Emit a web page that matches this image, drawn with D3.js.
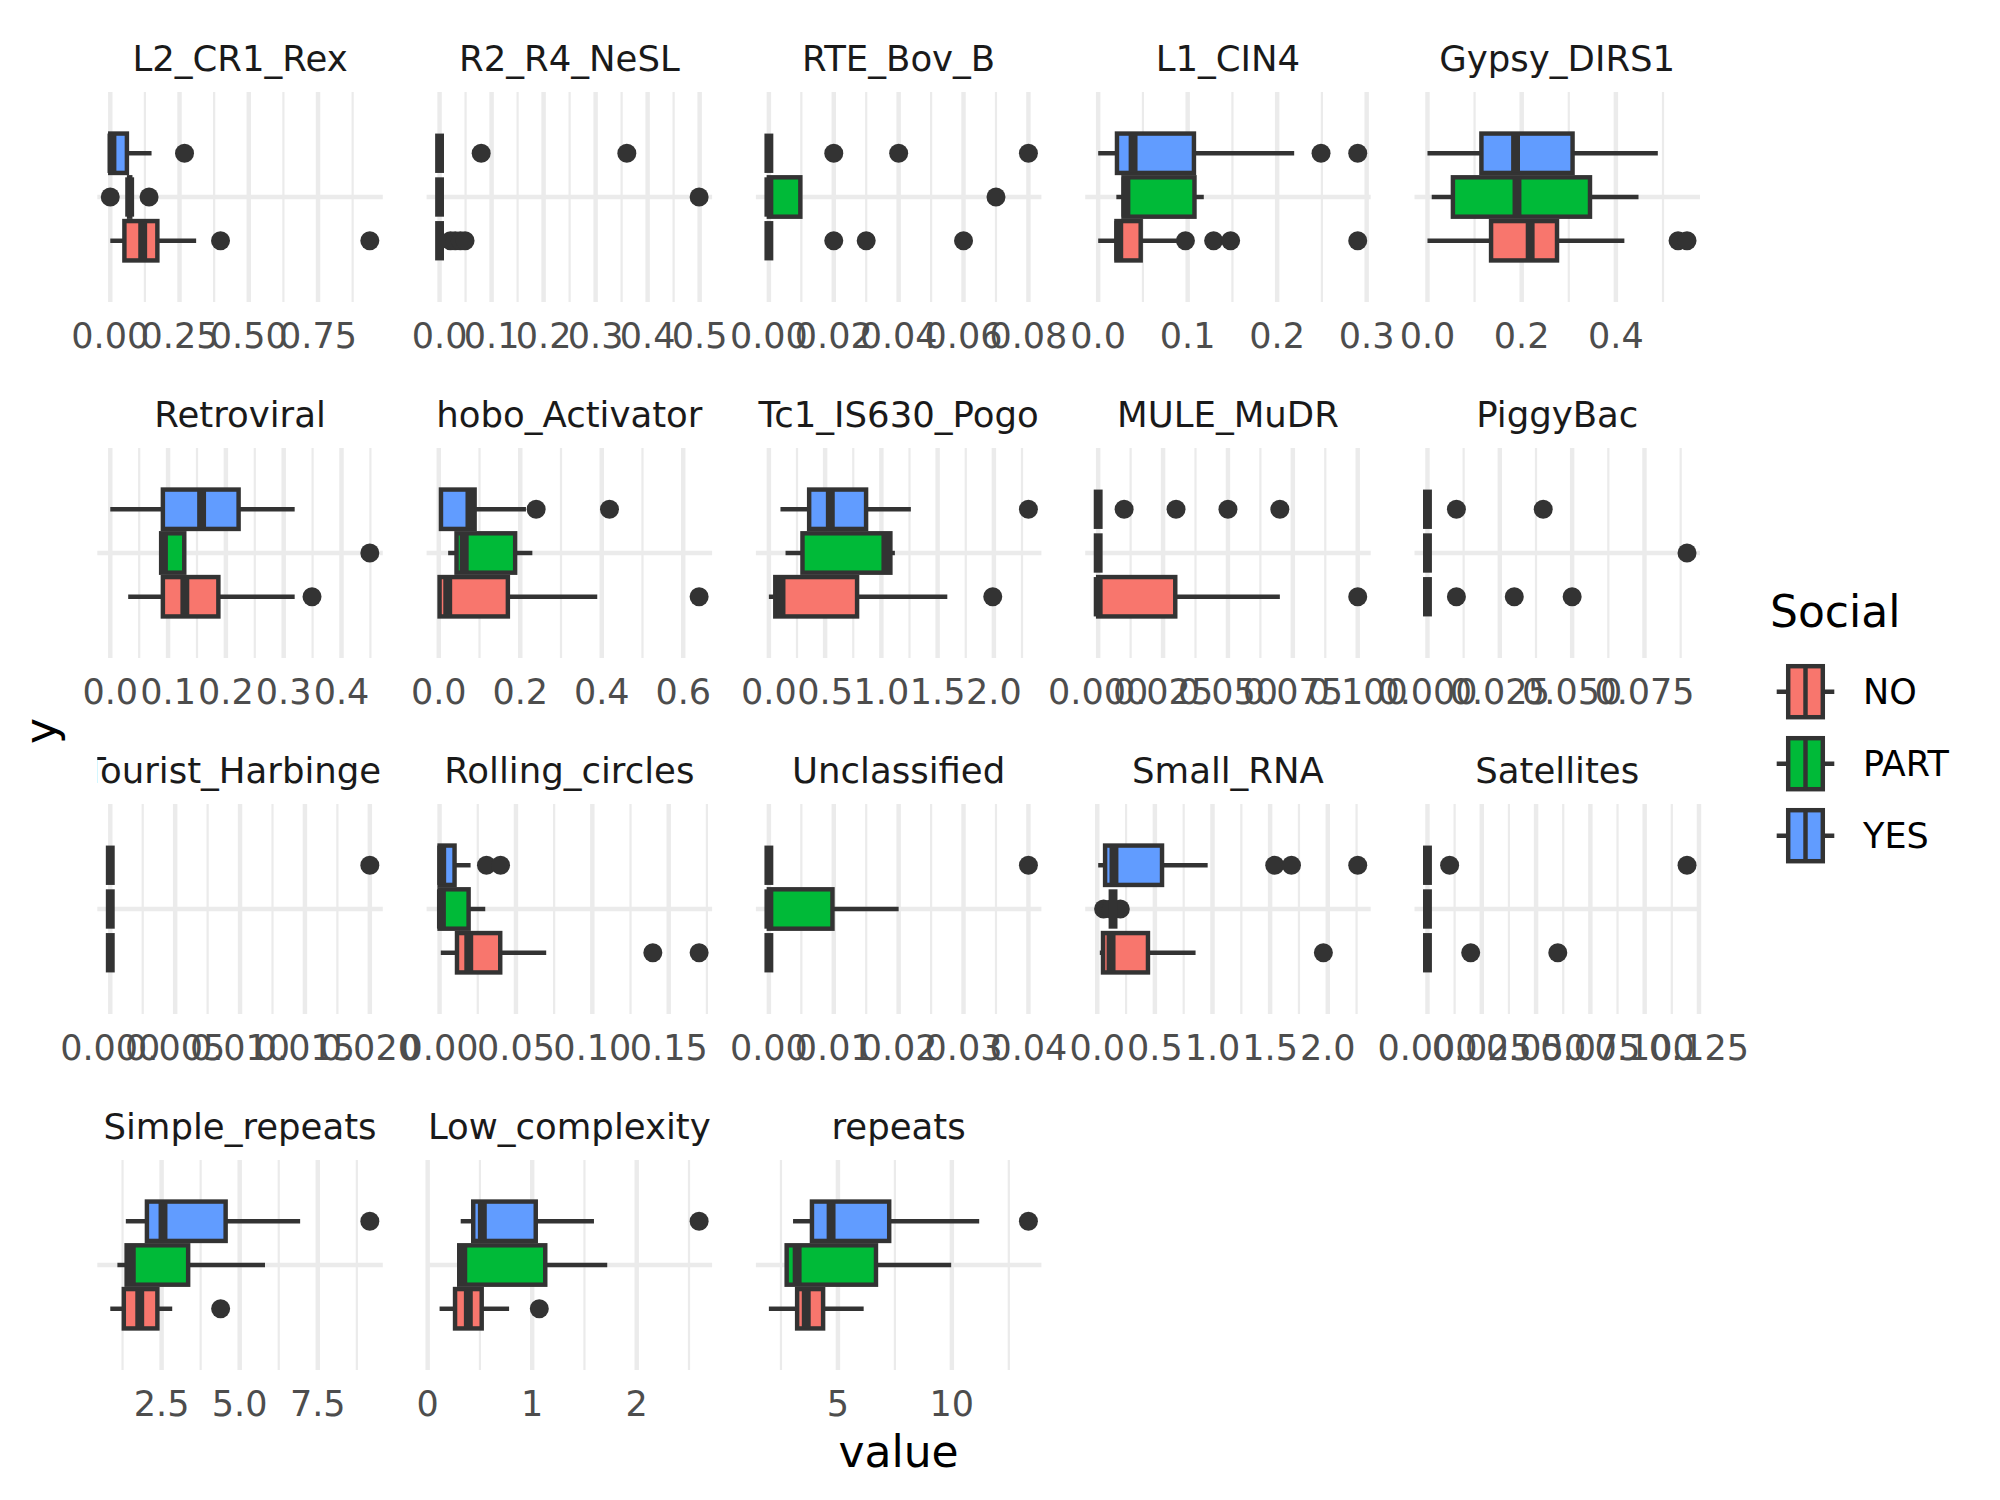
<!DOCTYPE html>
<html><head><meta charset="utf-8">
<script src="https://cdn.jsdelivr.net/npm/d3@7"></script>
<style>body{margin:0;background:#fff} svg{display:block}</style>
</head><body>
<svg id="c" width="2000" height="1500"></svg>
<script>
// ---------- data ----------
const panels = ["L2_CR1_Rex","R2_R4_NeSL","RTE_Bov_B","L1_CIN4","Gypsy_DIRS1",
  "Retroviral","hobo_Activator","Tc1_IS630_Pogo","MULE_MuDR","PiggyBac",
  "Tourist_Harbinger","Rolling_circles","Unclassified","Small_RNA","Satellites",
  "Simple_repeats","Low_complexity","repeats"];
const groups = ["NO","PART","YES"];
const groupColors = ["#F8766D","#00BA38","#619CFF"];

// each entry: [NO, PART, YES]
const whiskerLow = [
  [0.0,0.068,0.0],[0,0,0],[0,0,0],[0.0,0.0203,0.0],[0.0,0.009,0.0],
  [0.031,0.088,0.0],[0.002,0.023,0.0054],[0.0,0.148,0.103],[0,0,0],[0,0,0],
  [0,0,0],[0.0008,0.0,0.0],[0,0,0],[0.022,0.137,0.008],[0,0,0],
  [0.857,1.085,1.355],[0.114,0.30,0.316],[1.97,2.75,3.03]];
const q1 = [
  [0.051,0.068,0.0],[0,0,0],[0,0,0],[0.0204,0.0283,0.021],[0.135,0.054,0.1145],
  [0.091,0.088,0.091],[0.002,0.0436,0.0054],[0.057,0.2986,0.358],[0,0,0],[0,0,0],
  [0,0,0],[0.0114,0.0,0.0],[0,0,0],[0.05,0.137,0.068],[0,0,0],
  [1.29,1.38,2.03],[0.262,0.302,0.436],[3.21,2.75,3.86]];
const median = [
  [0.117,0.070,0.006],[0,0,0],[0,0,0],[0.023,0.031,0.039],[0.218,0.190,0.187],
  [0.129,0.092,0.158],[0.022,0.0625,0.0765],[0.108,1.04,0.546],[0,0,0],[0,0,0],
  [0,0,0],[0.0191,0.0012,0.0014],[0,0,0],[0.12,0.137,0.145],[0,0,0],
  [1.80,1.53,2.545],[0.389,0.336,0.523],[3.61,3.21,4.70]];
const q3 = [
  [0.170,0.072,0.060],[0,0,0],[0,0.0097,0],[0.0475,0.1076,0.107],[0.275,0.345,0.308],
  [0.187,0.128,0.222],[0.1696,0.1875,0.088],[0.784,1.08,0.864],[0.0297,0,0],[0,0,0],
  [0,0,0],[0.0397,0.019,0.0098],[0,0.0098,0],[0.44,0.137,0.562],[0,0,0],
  [2.365,3.35,4.55],[0.517,1.125,1.034],[4.35,6.67,7.25]];
const whiskerHigh = [
  [0.310,0.072,0.149],[0,0,0],[0,0.0097,0],[0.09,0.118,0.219],[0.418,0.448,0.489],
  [0.319,0.128,0.319],[0.389,0.2297,0.214],[1.586,1.12,1.262],[0.070,0,0],[0,0,0],
  [0,0,0],[0.0698,0.0299,0.0203],[0,0.020,0],[0.853,0.137,0.958],[0,0,0],
  [2.84,5.81,6.935],[0.779,1.718,1.591],[6.13,9.97,11.20]];
const outliers = [
  [[0.398,0.937],[0.0,0.14],[0.268]],
  [[0.021,0.030,0.040,0.049],[0.499],[0.080,0.360]],
  [[0.020,0.030,0.060],[0.070],[0.020,0.040,0.080]],
  [[0.0975,0.129,0.148,0.290],[],[0.249,0.290]],
  [[0.532,0.551],[],[]],
  [[0.349],[0.449],[]],
  [[0.639],[],[0.239,0.419]],
  [[1.99],[],[2.307]],
  [[0.100],[],[0.010,0.030,0.050,0.070]],
  [[0.010,0.030,0.050],[0.0897],[0.010,0.040]],
  [[],[],[0.020]],
  [[0.1396,0.1699],[],[0.0307,0.0399]],
  [[],[],[0.040]],
  [[1.962],[0.055,0.12,0.2],[1.54,1.685,2.26]],
  [[0.0199,0.060],[],[0.0102,0.1195]],
  [[4.39],[],[9.166]],
  [[1.068],[],[2.597]],
  [[],[],[13.36]]];
const tickValues = [
  [0,0.25,0.5,0.75],[0,0.1,0.2,0.3,0.4,0.5],[0,0.02,0.04,0.06,0.08],[0,0.1,0.2,0.3],[0,0.2,0.4],
  [0,0.1,0.2,0.3,0.4],[0,0.2,0.4,0.6],[0,0.5,1,1.5,2],[0,0.025,0.05,0.075,0.1],[0,0.025,0.05,0.075],
  [0,0.005,0.01,0.015,0.02],[0,0.05,0.1,0.15],[0,0.01,0.02,0.03,0.04],[0,0.5,1,1.5,2],[0,0.025,0.05,0.075,0.1,0.125],
  [2.5,5,7.5],[0,1,2],[5,10]];
const tickLabels = [
  ["0.00","0.25","0.50","0.75"],["0.0","0.1","0.2","0.3","0.4","0.5"],["0.00","0.02","0.04","0.06","0.08"],["0.0","0.1","0.2","0.3"],["0.0","0.2","0.4"],
  ["0.0","0.1","0.2","0.3","0.4"],["0.0","0.2","0.4","0.6"],["0.0","0.5","1.0","1.5","2.0"],["0.000","0.025","0.050","0.075","0.100"],["0.000","0.025","0.050","0.075"],
  ["0.000","0.005","0.010","0.015","0.020"],["0.00","0.05","0.10","0.15"],["0.00","0.01","0.02","0.03","0.04"],["0.0","0.5","1.0","1.5","2.0"],["0.000","0.025","0.050","0.075","0.100","0.125"],
  ["2.5","5.0","7.5"],["0","1","2"],["5","10"]];

// ---------- layout ----------
const FONT = "DejaVu Sans";
const colLeft0 = 97.3, colStep = 329.3, panelW = 285.5;
const rowTop0 = 92, rowStep = 356, panelH = 210;
const LW = 4.45, GRID = "#EBEBEB", DARK = "#333333";

const svg = d3.select("#c");
svg.append("rect").attr("width",2000).attr("height",1500).attr("fill","#fff");
const defs = svg.append("defs");

panels.forEach((name, p) => {
  const col = p % 5, row = Math.floor(p / 5);
  const left = colLeft0 + col * colStep, top = rowTop0 + row * rowStep;
  const g = svg.append("g");

  // x scale from data extent, 5% expansion
  const vals = [];
  groups.forEach((_, i) => {
    vals.push(whiskerLow[p][i], whiskerHigh[p][i], q1[p][i], q3[p][i], ...outliers[p][i]);
  });
  const [mn, mx] = d3.extent(vals);
  const r = mx - mn;
  const x = d3.scaleLinear().domain([mn - 0.05 * r, mx + 0.05 * r]).range([left, left + panelW]);
  const y = d3.scaleLinear().domain([0.4, 1.6]).range([top + panelH, top]);
  const [d0, d1] = x.domain();
  const eps = (d1 - d0) * 1e-6;

  // minor grid
  const tv = tickValues[p];
  const step = tv[1] - tv[0];
  const minors = [];
  for (let k = -1; k < tv.length; k++) {
    const m = tv[0] + step * k + step / 2;
    if (m >= d0 - eps && m <= d1 + eps) minors.push(m);
  }
  g.selectAll(".minor").data(minors).join("line")
    .attr("x1", d => x(d)).attr("x2", d => x(d))
    .attr("y1", top).attr("y2", top + panelH)
    .attr("stroke", GRID).attr("stroke-width", LW / 2);
  // major grid
  const majors = tv.map((v, i) => ({v, lab: tickLabels[p][i]})).filter(d => d.v >= d0 - eps && d.v <= d1 + eps);
  g.selectAll(".major").data(majors).join("line")
    .attr("x1", d => x(d.v)).attr("x2", d => x(d.v))
    .attr("y1", top).attr("y2", top + panelH)
    .attr("stroke", GRID).attr("stroke-width", LW);
  g.append("line").attr("x1", left).attr("x2", left + panelW)
    .attr("y1", y(1)).attr("y2", y(1)).attr("stroke", GRID).attr("stroke-width", LW);

  // tick labels
  g.selectAll(".tl").data(majors).join("text")
    .attr("x", d => x(d.v)).attr("y", top + panelH + 46)
    .attr("text-anchor", "middle").attr("font-family", FONT).attr("font-size", 35)
    .attr("fill", "#4D4D4D").text(d => d.lab);

  // strip title (clipped to panel width)
  const cid = "clip" + p;
  defs.append("clipPath").attr("id", cid).append("rect")
    .attr("x", left).attr("y", top - 70).attr("width", panelW).attr("height", 70);
  g.append("text").attr("clip-path", `url(#${cid})`)
    .attr("x", left + panelW / 2).attr("y", top - 21)
    .attr("text-anchor", "middle").attr("font-family", FONT).attr("font-size", 35.5)
    .attr("fill", "#1A1A1A").text(name);

  // boxplots
  groups.forEach((grp, i) => {
    const yc = 1 + (i - 1) * 0.25;
    const half = 0.25 * 0.9 / 2;
    const gy = y(yc), gTop = y(yc + half), gBot = y(yc - half);
    const bg = g.append("g");
    bg.selectAll("circle").data(outliers[p][i]).join("circle")
      .attr("cx", d => x(d)).attr("cy", gy).attr("r", 9.5).attr("fill", DARK);
    bg.selectAll(".wh").data([[whiskerLow[p][i], q1[p][i]], [q3[p][i], whiskerHigh[p][i]]]).join("line")
      .attr("x1", d => x(d[0])).attr("x2", d => x(d[1]))
      .attr("y1", gy).attr("y2", gy).attr("stroke", DARK).attr("stroke-width", LW);
    bg.append("rect")
      .attr("x", x(q1[p][i])).attr("width", x(q3[p][i]) - x(q1[p][i]))
      .attr("y", gTop).attr("height", gBot - gTop)
      .attr("fill", groupColors[i]).attr("stroke", DARK).attr("stroke-width", LW)
      .attr("stroke-linejoin", "miter");
    bg.append("line")
      .attr("x1", x(median[p][i])).attr("x2", x(median[p][i]))
      .attr("y1", gTop).attr("y2", gBot).attr("stroke", DARK).attr("stroke-width", LW * 2);
  });
});

// axis titles
svg.append("text").attr("x", 898.5).attr("y", 1467).attr("text-anchor", "middle")
  .attr("font-family", FONT).attr("font-size", 44).attr("fill", "#000").text("value");
svg.append("text").attr("transform", "translate(56,731) rotate(-90)").attr("text-anchor", "middle")
  .attr("font-family", FONT).attr("font-size", 44).attr("fill", "#000").text("y");

// legend
const lg = svg.append("g");
lg.append("text").attr("x", 1770).attr("y", 627).attr("font-family", FONT)
  .attr("font-size", 44).attr("fill", "#000").text("Social");
const kx = 1805.5;
groups.forEach((grp, i) => {
  const cy = 691.7 + 72 * i;
  lg.append("line").attr("x1", kx - 28.8).attr("x2", kx + 28.8).attr("y1", cy).attr("y2", cy)
    .attr("stroke", DARK).attr("stroke-width", LW);
  lg.append("rect").attr("x", kx - 17.3).attr("width", 34.6).attr("y", cy - 25.5).attr("height", 51)
    .attr("fill", groupColors[i]).attr("stroke", DARK).attr("stroke-width", LW);
  lg.append("line").attr("x1", kx).attr("x2", kx).attr("y1", cy - 25.5).attr("y2", cy + 25.5)
    .attr("stroke", DARK).attr("stroke-width", LW);
  lg.append("text").attr("x", 1863).attr("y", cy + 12.5).attr("font-family", FONT)
    .attr("font-size", 35).attr("fill", "#000").text(grp);
});
</script>
</body></html>
